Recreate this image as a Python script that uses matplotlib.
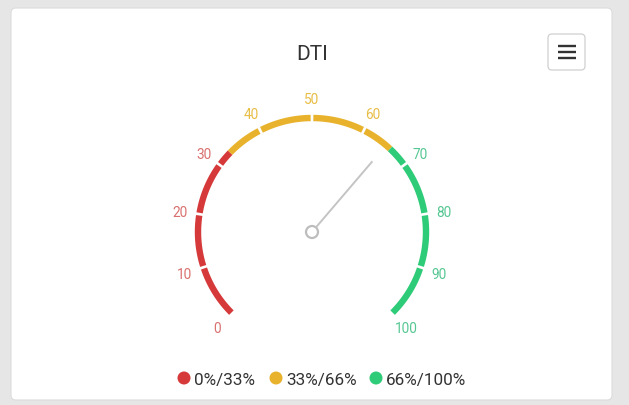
import numpy as np
import matplotlib
matplotlib.use("Agg")
import matplotlib.pyplot as plt
from matplotlib.patches import FancyBboxPatch, Circle

plt.rcParams['font.family'] = ['Roboto', 'DejaVu Sans']

# ---- data ----
title = "DTI"
band_edges = [0, 33, 66, 100]
band_colors = ["#d6393a", "#e8b22c", "#2ecb78"]
band_labels = ["0%/33%", "33%/66%", "66%/100%"]
label_colors = ["#d9706e", "#e8bd45", "#55c792"]
tick_values = [0, 10, 20, 30, 40, 50, 60, 70, 80, 90, 100]
needle_value = 65

# ---- layout (pixel space) ----
W, H = 629, 405
fig = plt.figure(figsize=(W / 100, H / 100), dpi=100)
fig.patch.set_facecolor("#e6e6e6")
ax = fig.add_axes([0, 0, 1, 1])
ax.set_xlim(0, W)
ax.set_ylim(H, 0)
ax.set_aspect("equal")
ax.axis("off")

# card
card = FancyBboxPatch((11, 8), 601, 392, boxstyle="round,pad=0,rounding_size=5",
                      facecolor="white", edgecolor="#dcdcdc", linewidth=0.8)
ax.add_patch(card)

# menu button
btn = FancyBboxPatch((548, 34), 37, 36, boxstyle="round,pad=0,rounding_size=4",
                     facecolor="white", edgecolor="#d0d0d0", linewidth=0.9)
ax.add_patch(btn)
for yy in (46, 52, 58):
    ax.plot([558, 576], [yy, yy], color="#333333", lw=1.7, solid_capstyle="butt")

ax.text(312, 55, title, ha="center", va="center", fontsize=15, color="#333333")

cx, cy, R = 312, 232, 114
start_deg, sweep = 225.0, 270.0


def ang(v):
    return np.deg2rad(start_deg - sweep * v / 100.0)


gap = 0.25  # value units of white gap at ticks
for i in range(3):
    lo, hi = band_edges[i], band_edges[i + 1]
    cuts = [lo] + [t for t in tick_values if lo < t < hi] + [hi]
    for a, b in zip(cuts[:-1], cuts[1:]):
        a2 = a + (gap if a in tick_values and a != 0 else 0)
        b2 = b - (gap if b in tick_values and b != 100 else 0)
        vv = np.linspace(a2, b2, 60)
        th = ang(vv)
        ax.plot(cx + R * np.cos(th), cy - R * np.sin(th), color=band_colors[i],
                lw=4.6, solid_capstyle="butt")

# tick labels
RL = 134
for t in tick_values:
    idx = min(np.searchsorted(band_edges, t, side="right") - 1, 2)
    th = ang(t)
    ax.text(cx + RL * np.cos(th), cy - RL * np.sin(th) + 2, str(t), ha="center",
            va="center", fontsize=9.8, color=label_colors[idx])

# needle
th = ang(needle_value)
r0, r1 = 7, 92
ax.plot([cx + r0 * np.cos(th), cx + r1 * np.cos(th)],
        [cy - r0 * np.sin(th), cy - r1 * np.sin(th)], color="#c4c4c4", lw=1.4)
ax.add_patch(Circle((cx, cy), 6, facecolor="white", edgecolor="#bdbdbd", lw=1.6))

# legend
lx = [184, 276, 376]
for x, c, lab in zip(lx, band_colors, band_labels):
    ax.add_patch(Circle((x, 378), 6.5, facecolor=c, edgecolor="none"))
    ax.text(x + 10, 380, lab, ha="left", va="center", fontsize=12.3, color="#333333")

fig.savefig("out.png", dpi=100, facecolor=fig.get_facecolor())
